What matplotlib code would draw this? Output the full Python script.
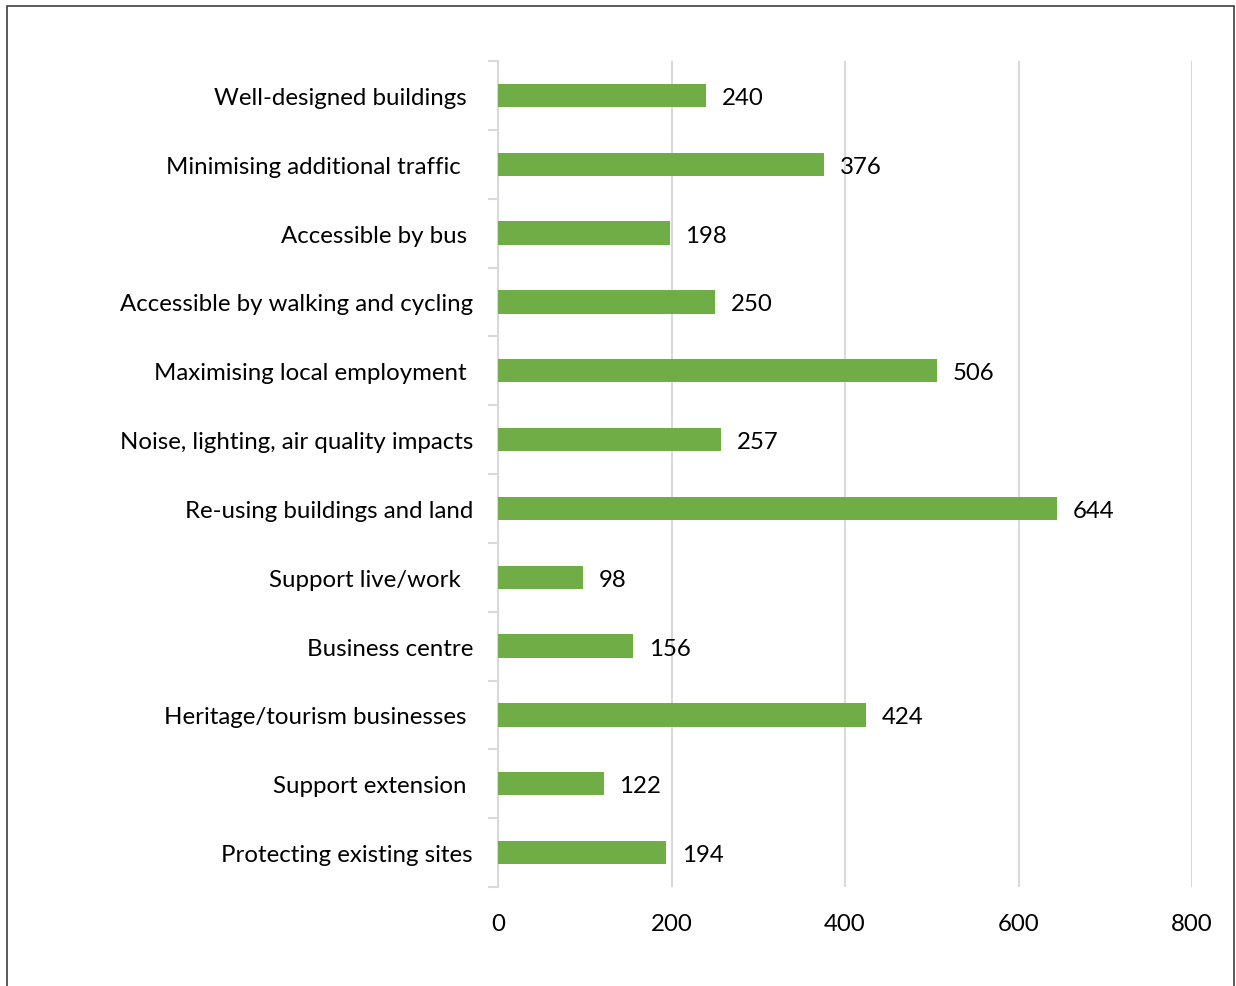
import matplotlib.pyplot as plt
from matplotlib.patches import Rectangle
from matplotlib.ticker import FixedLocator, NullFormatter

plt.rcParams['font.family'] = ['Lato', 'DejaVu Sans']

# categories listed top to bottom (trailing spaces kept from the source labels)
categories = [
    'Well-designed buildings ',
    'Minimising additional traffic  ',
    'Accessible by bus ',
    'Accessible by walking and cycling',
    'Maximising local employment ',
    'Noise, lighting, air quality impacts',
    'Re-using buildings and land',
    'Support live/work  ',
    'Business centre',
    'Heritage/tourism businesses ',
    'Support extension ',
    'Protecting existing sites',
]
counts = [240, 376, 198, 250, 506, 257, 644, 98, 156, 424, 122, 194]
xticks = [0, 200, 400, 600, 800]

fs = 17.3

fig = plt.figure(figsize=(12.36, 9.87), dpi=100)
ax = fig.add_axes([498 / 1236, 1 - 888 / 987, (1192 - 498) / 1236, (888 - 62) / 987])

n = len(categories)
ypos = list(range(n))
ax.barh(ypos, counts, height=0.34, color='#70AD47', zorder=3)
for y, v in zip(ypos, counts):
    ax.text(v + 18, y, str(v), va='center_baseline', ha='left', fontsize=fs, color='black')

ax.set_xlim(0, 800)
ax.set_ylim(n - 0.5, -0.5)
ax.set_xticks(xticks)
ax.set_xticklabels([str(t) for t in xticks], fontsize=fs)
ax.tick_params(axis='x', length=0, pad=19)
ax.grid(axis='x', color='#D9D9D9', linewidth=1.5, zorder=0)

# category labels sit between the boundary ticks
ax.set_yticks(ypos)
ax.set_yticklabels(categories, fontsize=fs)
ax.tick_params(axis='y', which='major', length=0, pad=18)
ax.yaxis.set_minor_locator(FixedLocator([i - 0.5 for i in range(n + 1)]))
ax.yaxis.set_minor_formatter(NullFormatter())
ax.tick_params(axis='y', which='minor', length=7, color='#D9D9D9', width=1.5)

for s in ['top', 'right', 'bottom']:
    ax.spines[s].set_visible(False)
ax.spines['left'].set_color('#D9D9D9')
ax.spines['left'].set_linewidth(1.5)

# outer frame around the chart area
fig.patches.append(Rectangle((7 / 1236, -0.05), (1234 - 7) / 1236, 1.05 - 7 / 987,
                             transform=fig.transFigure, fill=False,
                             edgecolor='#404040', linewidth=1.2))

fig.savefig('out.png', dpi=100)
